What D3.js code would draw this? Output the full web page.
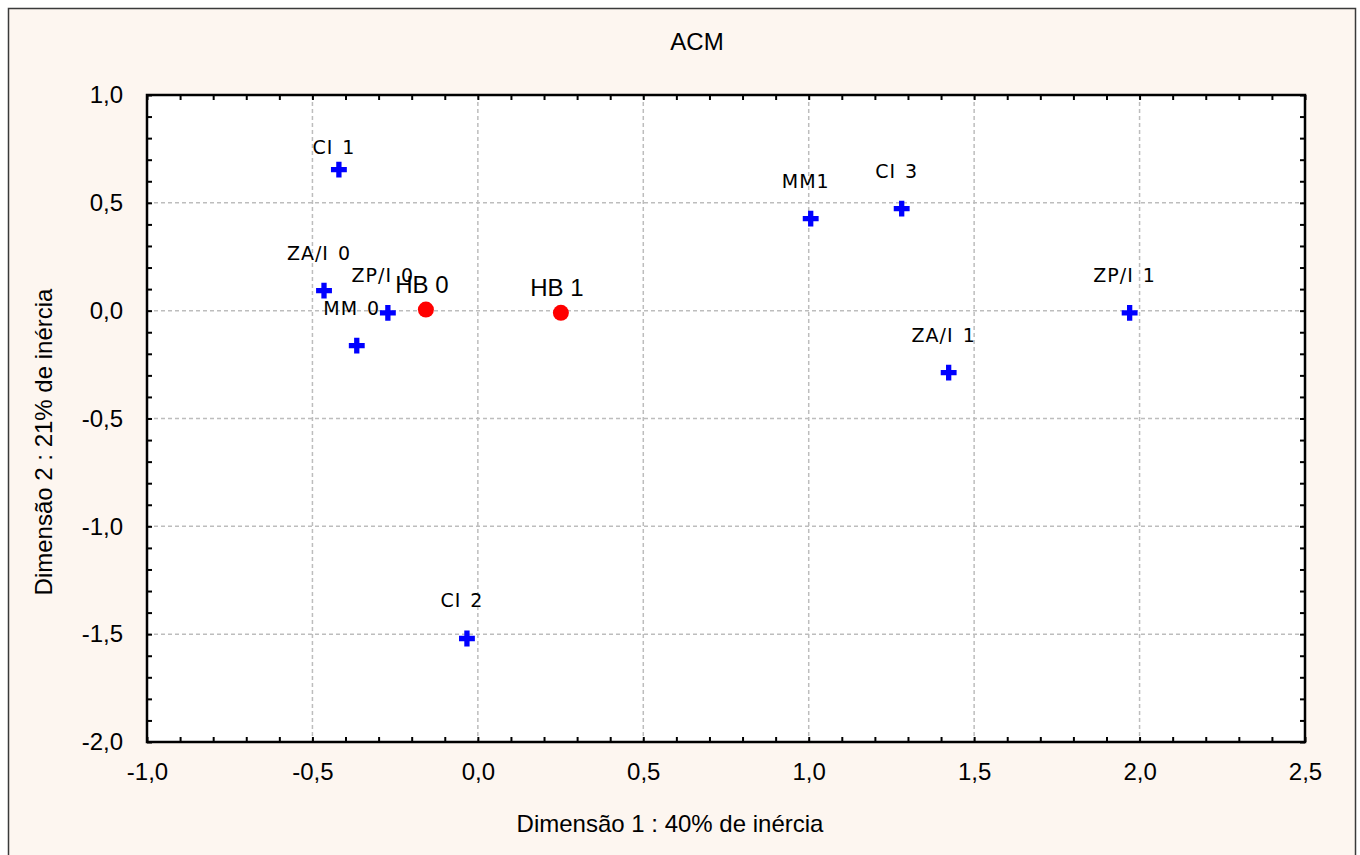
<!DOCTYPE html>
<html>
  <head>
    <meta charset="utf-8">
    <title>ACM</title>
    <script src="https://d3js.org/d3.v7.min.js"></script>
    <style>
      body { margin: 0; background: #ffffff; }
      svg { display: block; }
    </style>
  </head>
  <body>
    <script type="text/javascript">

      //Category labels and coordinates on the two dimensions
      var labels = ["CI 1", "ZA/I 0", "ZP/I 0", "MM 0", "CI 2", "MM1", "CI 3", "ZA/I 1", "ZP/I 1", "HB 0", "HB 1"];
      var dim1   = [-0.42, -0.465, -0.272, -0.366, -0.033, 1.006, 1.281, 1.423, 1.970, -0.157, 0.251];
      var dim2   = [0.654, 0.093, -0.010, -0.162, -1.520, 0.427, 0.473, -0.287, -0.010, 0.005, -0.010];
      var group  = ["var", "var", "var", "var", "var", "var", "var", "var", "var", "sup", "sup"];

      //Tick labels
      var xTicks = [-1.0, -0.5, 0.0, 0.5, 1.0, 1.5, 2.0, 2.5];
      var yTicks = [1.0, 0.5, 0.0, -0.5, -1.0, -1.5, -2.0];

      var w = 1360;
      var h = 855;
      var margin = { left: 147, right: 55, top: 95, bottom: 113 };

      var points = labels.map(function(d, i) {
        return { label: d, x: dim1[i], y: dim2[i], group: group[i] };
      });

      var xScale = d3.scaleLinear()
                     .domain([-1.0, 2.5])
                     .range([margin.left, w - margin.right]);

      var yScale = d3.scaleLinear()
                     .domain([-2.0, 1.0])
                     .range([h - margin.bottom, margin.top]);

      var fmt = function(d) { return d3.format(".1f")(d).replace(".", ",").replace("−", "-"); };

      var svg = d3.select("body")
                  .append("svg")
                  .attr("width", w)
                  .attr("height", h);

      //Outer panel
      svg.append("rect")
         .attr("x", 8.5)
         .attr("y", 8.5)
         .attr("width", 1347)
         .attr("height", 860)
         .attr("fill", "#fdf6f0")
         .attr("stroke", "#3a3a3a")
         .attr("stroke-width", 1.5);

      //Plot area
      svg.append("rect")
         .attr("x", xScale(-1.0))
         .attr("y", yScale(1.0))
         .attr("width", xScale(2.5) - xScale(-1.0))
         .attr("height", yScale(-2.0) - yScale(1.0))
         .attr("fill", "#ffffff");

      //Grid lines
      var grid = svg.append("g")
                    .attr("stroke", "#bdbdbd")
                    .attr("stroke-width", 1.5)
                    .attr("stroke-dasharray", "4,3");

      grid.selectAll(".vgrid")
          .data(xTicks.slice(1, -1))
          .enter()
          .append("line")
          .attr("x1", function(d) { return xScale(d); })
          .attr("x2", function(d) { return xScale(d); })
          .attr("y1", yScale(1.0))
          .attr("y2", yScale(-2.0));

      grid.selectAll(".hgrid")
          .data(yTicks.slice(1, -1))
          .enter()
          .append("line")
          .attr("x1", xScale(-1.0))
          .attr("x2", xScale(2.5))
          .attr("y1", function(d) { return yScale(d); })
          .attr("y2", function(d) { return yScale(d); });

      //Minor ticks on all four sides, pointing inward
      var xMinor = d3.range(-10, 26).map(function(d) { return d / 10; });
      var yMinor = d3.range(-20, 11).map(function(d) { return d / 10; });

      var tickAxes = [
        { axis: d3.axisBottom(xScale).tickValues(xMinor).tickSize(-5), t: "translate(0," + yScale(-2.0) + ")" },
        { axis: d3.axisTop(xScale).tickValues(xMinor).tickSize(-5), t: "translate(0," + yScale(1.0) + ")" },
        { axis: d3.axisLeft(yScale).tickValues(yMinor).tickSize(-5), t: "translate(" + xScale(-1.0) + ",0)" },
        { axis: d3.axisRight(yScale).tickValues(yMinor).tickSize(-5), t: "translate(" + xScale(2.5) + ",0)" }
      ];

      tickAxes.forEach(function(a) {
        var g = svg.append("g")
                   .attr("transform", a.t)
                   .call(a.axis.tickFormat(""));
        g.select(".domain").remove();
        g.selectAll("line").attr("stroke", "#000").attr("stroke-width", 2);
      });

      //Frame
      svg.append("rect")
         .attr("x", xScale(-1.0))
         .attr("y", yScale(1.0))
         .attr("width", xScale(2.5) - xScale(-1.0))
         .attr("height", yScale(-2.0) - yScale(1.0))
         .attr("fill", "none")
         .attr("stroke", "#000")
         .attr("stroke-width", 2.5);

      //Tick labels
      var xAxis = svg.append("g")
                     .attr("transform", "translate(0," + yScale(-2.0) + ")")
                     .call(d3.axisBottom(xScale).tickValues(xTicks).tickSize(0).tickPadding(21).tickFormat(fmt));

      var yAxis = svg.append("g")
                     .attr("transform", "translate(" + xScale(-1.0) + ",0)")
                     .call(d3.axisLeft(yScale).tickValues(yTicks).tickSize(0).tickPadding(24).tickFormat(fmt));

      [xAxis, yAxis].forEach(function(g) {
        g.select(".domain").remove();
        g.selectAll("text")
         .attr("font-family", "'Liberation Sans', Arial, sans-serif")
         .attr("font-size", "24px")
         .attr("fill", "#000");
      });

      //Title and axis titles
      svg.append("text")
         .attr("x", 697)
         .attr("y", 50)
         .attr("text-anchor", "middle")
         .attr("font-family", "'Liberation Sans', Arial, sans-serif")
         .attr("font-size", "24px")
         .text("ACM");

      svg.append("text")
         .attr("x", 670)
         .attr("y", 832)
         .attr("text-anchor", "middle")
         .attr("font-family", "'Liberation Sans', Arial, sans-serif")
         .attr("font-size", "24px")
         .text("Dimensão 1 : 40% de inércia");

      svg.append("text")
         .attr("transform", "translate(52,442) rotate(-90)")
         .attr("text-anchor", "middle")
         .attr("font-family", "'Liberation Sans', Arial, sans-serif")
         .attr("font-size", "24px")
         .text("Dimensão 2 : 21% de inércia");

      //Active variables: blue crosses
      var vars = points.filter(function(d) { return d.group === "var"; });
      var sups = points.filter(function(d) { return d.group === "sup"; });

      //CI 1 label sits closer to its mark
      var labelNudge = { "CI 1": 15 };

      svg.selectAll(".cross")
         .data(vars)
         .enter()
         .append("path")
         .attr("d", d3.symbol().type(d3.symbolCross).size(140))
         .attr("transform", function(d) {
           return "translate(" + xScale(d.x) + "," + yScale(d.y) + ")";
         })
         .attr("fill", "#0000ff");

      svg.selectAll(".varlabel")
         .data(vars)
         .enter()
         .append("text")
         .attr("x", function(d) { return xScale(d.x) - 5; })
         .attr("y", function(d) { return yScale(d.y) - 31 + (labelNudge[d.label] || 0); })
         .attr("text-anchor", "middle")
         .attr("font-family", "'DejaVu Sans', Verdana, sans-serif")
         .attr("font-size", "19px")
         .attr("letter-spacing", "1px")
         .attr("word-spacing", "2px")
         .attr("fill", "#000")
         .text(function(d) { return d.label; });

      //Supplementary points: red circles
      svg.selectAll(".dot")
         .data(sups)
         .enter()
         .append("circle")
         .attr("cx", function(d) { return xScale(d.x); })
         .attr("cy", function(d) { return yScale(d.y); })
         .attr("r", 8)
         .attr("fill", "#ff0000");

      svg.selectAll(".suplabel")
         .data(sups)
         .enter()
         .append("text")
         .attr("x", function(d) { return xScale(d.x) - 4; })
         .attr("y", function(d) { return yScale(d.y) - 17; })
         .attr("text-anchor", "middle")
         .attr("font-family", "'Liberation Sans', Arial, sans-serif")
         .attr("font-size", "24px")
         .attr("fill", "#000")
         .text(function(d) { return d.label; });

    </script>
  </body>
</html>
